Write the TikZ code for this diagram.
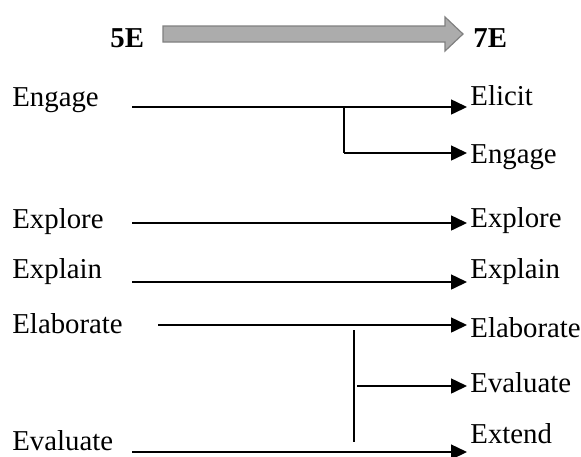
\documentclass[tikz,border=0pt]{standalone}
\usepackage{fontspec}
\setmainfont{Liberation Serif}
\usetikzlibrary{arrows.meta}
\tikzset{
  lbl/.style={anchor=base west,inner sep=0pt,font=\fontsize{14.4}{16}\selectfont},
  head/.style={lbl,font=\fontsize{14.4}{16}\selectfont\bfseries},
  flow/.style={line width=0.75pt,shorten >=1.5pt,-{Triangle[length=8pt,width=7.5pt]}},
  stem/.style={line width=0.75pt},
}
\begin{document}
\begin{tikzpicture}[x=0.5pt,y=-0.5pt]
     \useasboundingbox (0,0) rectangle (581,456);

     \node[head] (fiveE) at (110,47) {5E};
     \node[head] (sevenE) at (473,47) {7E};
     \draw[fill=gray!65,draw=gray,line width=0.6pt]
     (163,26) -- (445,26) -- (445,17) -- (463,34) -- (445,51) -- (445,42) -- (163,42) -- cycle;

     \node[lbl] (engL) at (12,106) {Engage};
     \node[lbl] (expL) at (12,228) {Explore};
     \node[lbl] (expnL) at (12,278) {Explain};
     \node[lbl] (elaL) at (12,333) {Elaborate};
     \node[lbl] (evaL) at (12,450) {Evaluate};

     \node[lbl] (elicitR) at (470,105) {Elicit};
     \node[lbl] (engR) at (470,163) {Engage};
     \node[lbl] (expR) at (470,227) {Explore};
     \node[lbl] (expnR) at (470,278) {Explain};
     \node[lbl] (elaR) at (470,337) {Elaborate};
     \node[lbl] (evaR) at (470,392) {Evaluate};
     \node[lbl] (extR) at (470,443) {Extend};

     \coordinate (s1) at (132,107);
     \coordinate (s2) at (132,223);
     \coordinate (s3) at (132,282);
     \coordinate (s4) at (158,325);
     \coordinate (s5) at (132,452);
     \coordinate (j1) at (344,107);
     \coordinate (j1b) at (344,153);
     \coordinate (j2) at (354,330);
     \coordinate (j2b) at (354,442);
     \coordinate (j2m) at (357,386);

     \draw[flow] (s1) -- (s1 -| elicitR.west);
     \draw[flow] (s2) -- (s2 -| expR.west);
     \draw[flow] (s3) -- (s3 -| expnR.west);
     \draw[flow] (s4) -- (s4 -| elaR.west);
     \draw[flow] (s5) -- (s5 -| extR.west);

     \draw[stem] (j1) -- (j1b);
     \draw[flow] (j1b) -- (j1b -| engR.west);
     \draw[stem] (j2) -- (j2b);
     \draw[flow] (j2m) -- (j2m -| evaR.west);
\end{tikzpicture}
\end{document}
